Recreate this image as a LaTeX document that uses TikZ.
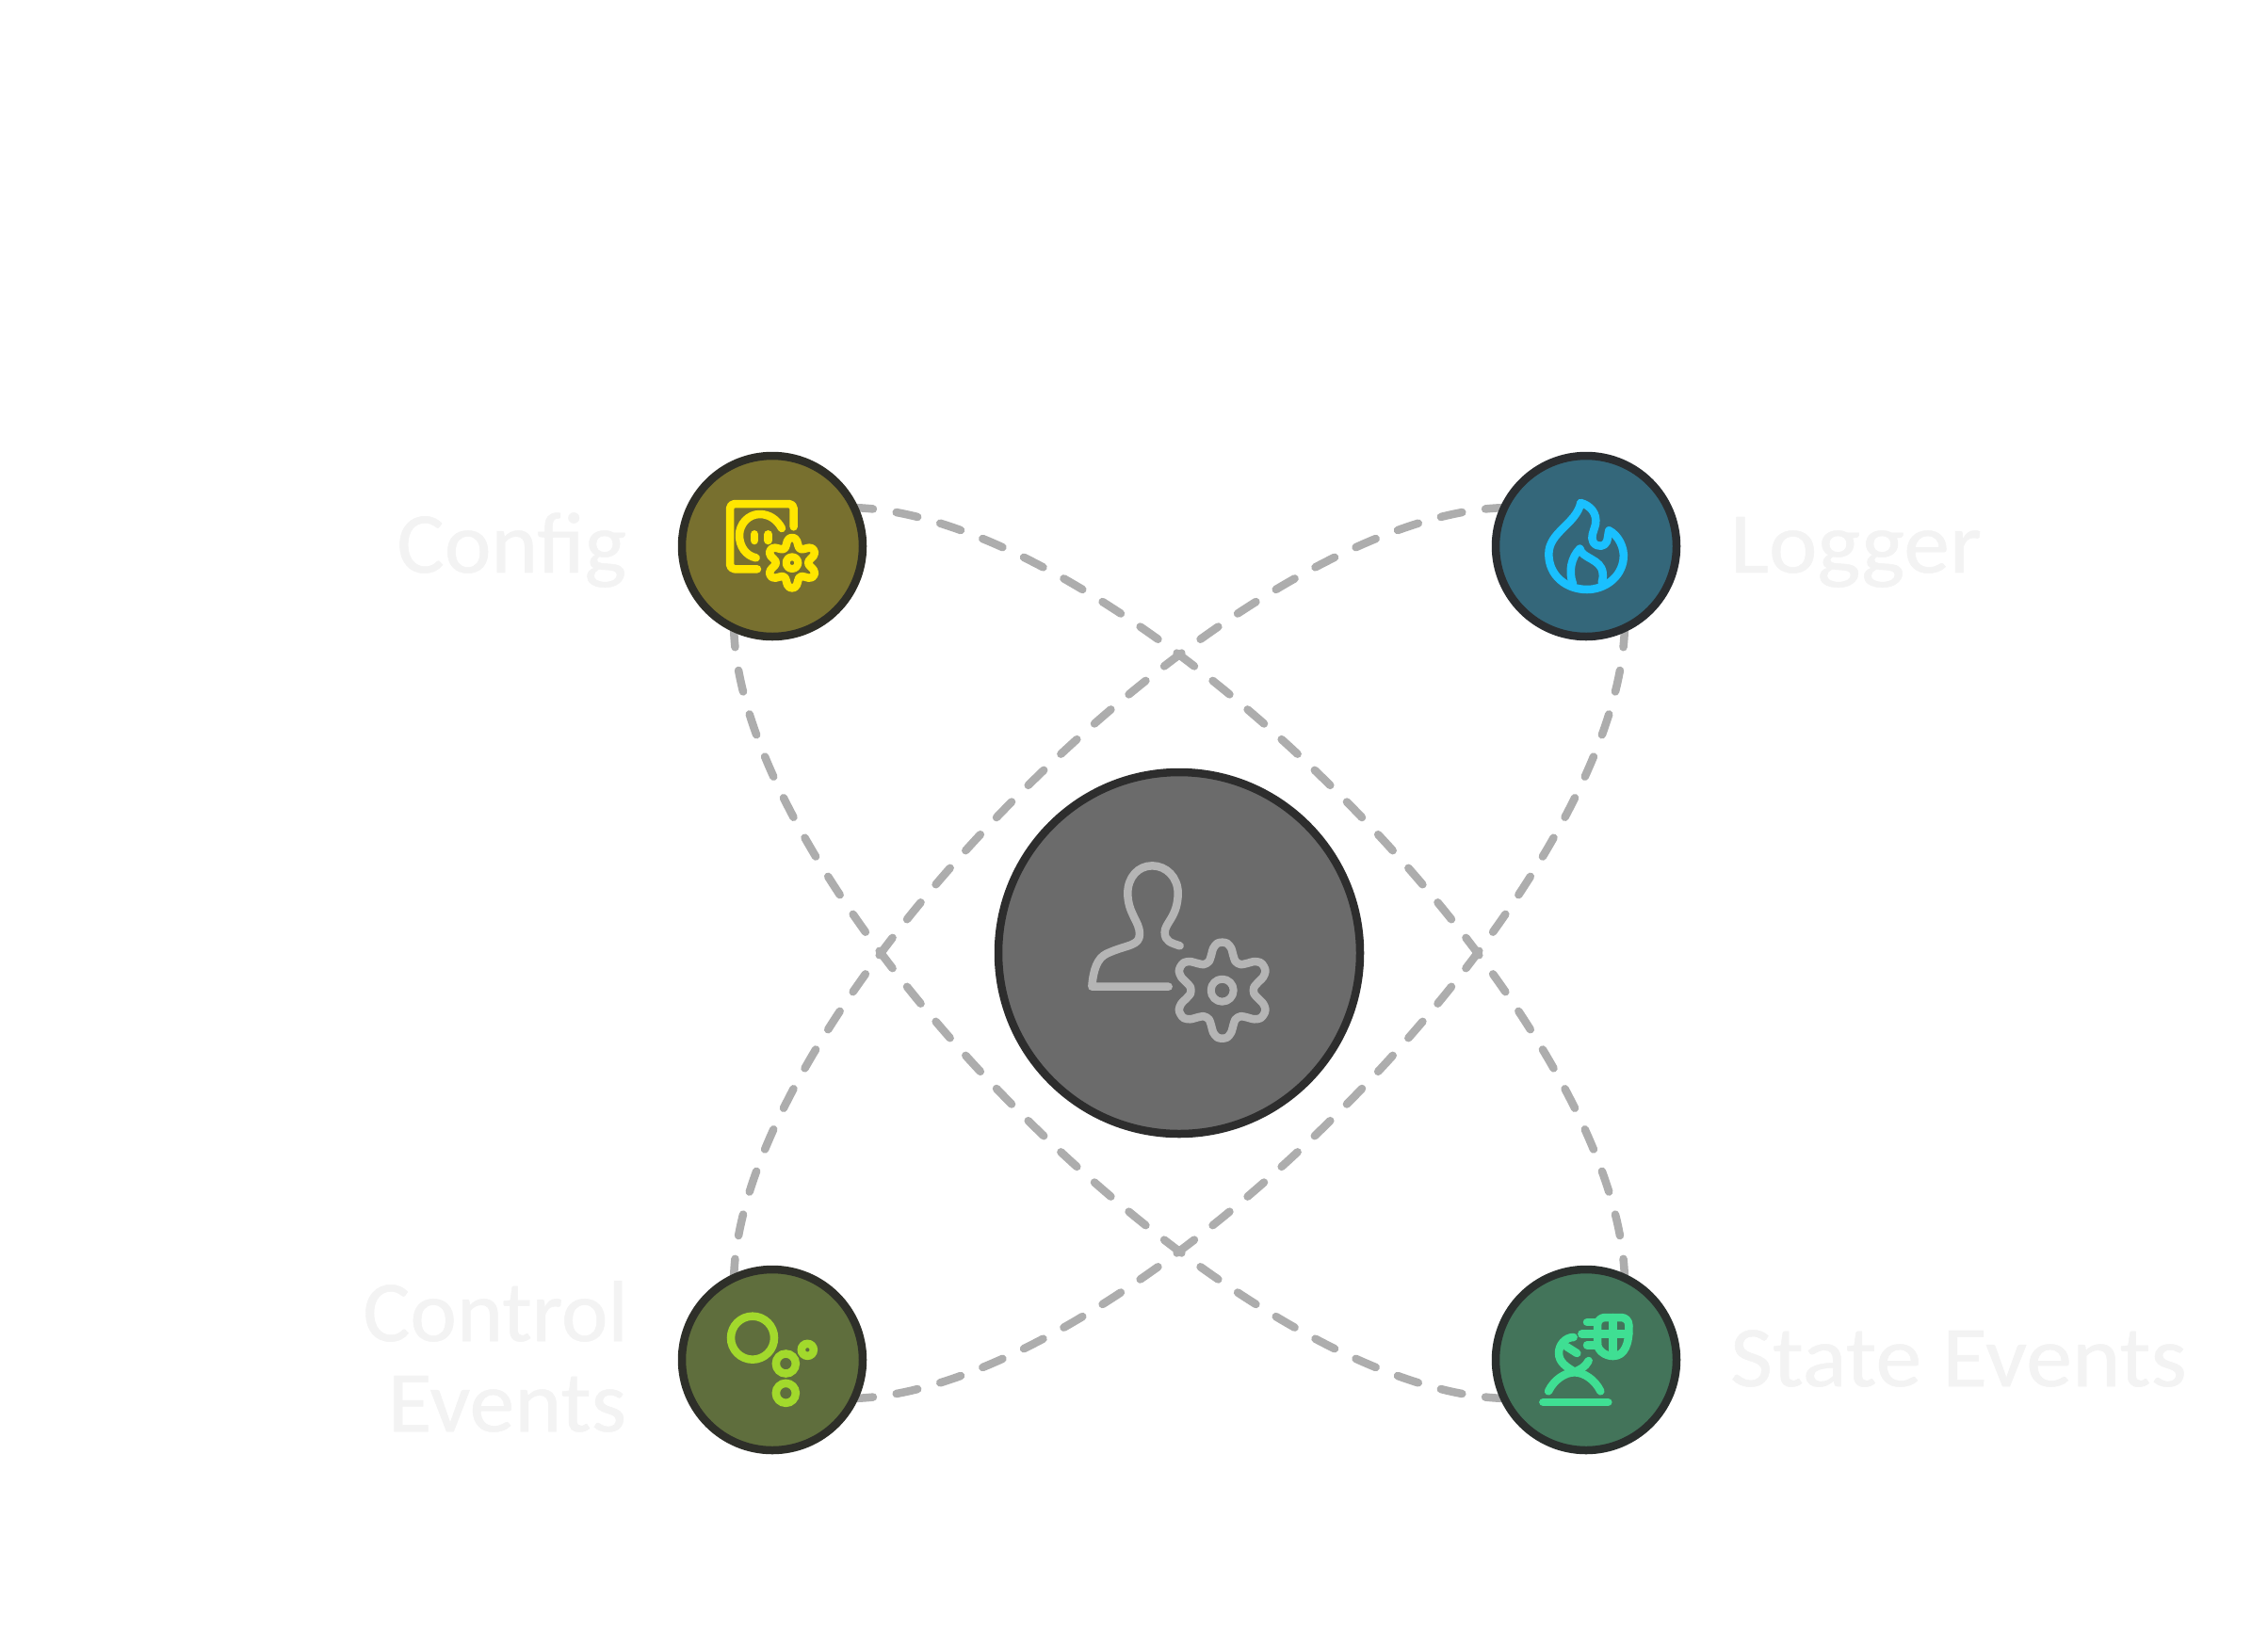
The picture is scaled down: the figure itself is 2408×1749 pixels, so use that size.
\documentclass[tikz,border=0pt]{standalone}
\usepackage{fontspec}
\setmainfont[FakeBold=0.5]{Carlito}
\usetikzlibrary{backgrounds}
\definecolor{linkgray}{HTML}{ADADAD}
\definecolor{labelpale}{HTML}{F3F3F3}
\tikzset{
  bubble/.style={circle,inner sep=0pt,outer sep=0pt,line width=8.5pt},
  small/.style={bubble,minimum size=192pt},
  hubnode/.style={bubble,minimum size=384pt,fill=hubfill,draw=hubline},
  link/.style={draw=linkgray,line width=8.5pt,line cap=round,dash pattern=on 23pt off 25pt,dash phase=44pt},
  icon/.style={line width=#1,line cap=round,line join=round},
  icon/.default=8.5pt,
  lbl/.style={anchor=base west,inner sep=0pt,outer sep=0pt,text=labelpale,font=\fontsize{92}{100}\selectfont},
  lblr/.style={anchor=base east,inner sep=0pt,outer sep=0pt,text=labelpale,font=\fontsize{92}{100}\selectfont},
  zoomed/.style={x=.33333pt,y=-.33333pt}
}
\definecolor{hubfill}{HTML}{6B6B6B}\definecolor{hubline}{HTML}{2D2D2D}
\definecolor{cfgfill}{HTML}{78702F}\definecolor{cfgline}{HTML}{2E2E27}
\definecolor{logfill}{HTML}{34677A}\definecolor{logline}{HTML}{2A2D30}
\definecolor{ctlfill}{HTML}{5F6E3D}\definecolor{ctlline}{HTML}{2E2F29}
\definecolor{stafill}{HTML}{43745A}\definecolor{staline}{HTML}{2A2F2D}
\definecolor{cfgicon}{HTML}{FFE600}\definecolor{logicon}{HTML}{1AC0FF}
\definecolor{ctlicon}{HTML}{A2D92C}\definecolor{staicon}{HTML}{3FDF93}
\definecolor{hubicon}{HTML}{B5B5B5}
\newcommand{\gearshape}[3]{plot[smooth cycle,domain=0:354,samples=60] ({#1+#3*(.825-.191*cos(6*\x)+.0159*cos(18*\x))*cos(\x)},{#2-#3*(.825-.191*cos(6*\x)+.0159*cos(18*\x))*sin(\x)})}
\begin{document}
\begin{tikzpicture}[x=1pt,y=-1pt]
\path[use as bounding box] (0,0) rectangle (2408,1749);
% nodes
\node[hubnode] (hub) at (1252,1012) {};
\node[small,fill=cfgfill,draw=cfgline] (cfg) at (820,580) {};
\node[small,fill=logfill,draw=logline] (log) at (1684,580) {};
\node[small,fill=ctlfill,draw=ctlline] (ctl) at (820,1444) {};
\node[small,fill=stafill,draw=staline] (sta) at (1684,1444) {};
% connector ends
\coordinate (cfgR) at (900,539);
\coordinate (cfgB) at (779,660);
\coordinate (logL) at (1604,539);
\coordinate (logB) at (1725,660);
\coordinate (ctlT) at (779,1364);
\coordinate (ctlR) at (900,1485);
\coordinate (staT) at (1725,1364);
\coordinate (staL) at (1604,1485);
\begin{scope}[on background layer]
\fill[white] (0,0) rectangle (2408,1749);
\draw[link] (cfgR) .. controls +(290,0) and +(0,-290) .. (staT);
\draw[link] (logL) .. controls +(-290,0) and +(0,-290) .. (ctlT);
\draw[link] (ctlR) .. controls +(290,0) and +(0,290) .. (logB);
\draw[link] (staL) .. controls +(-290,0) and +(0,290) .. (cfgB);
\end{scope}
% labels
\node[lblr] (tcfg) at (665,608) {\scalebox{1.026}[1]{Config}};
\node[lbl] (tlog) at (1837,608) {\scalebox{1.06}[1]{Logger}};
\node[lblr] (tctl1) at (667,1424) {\scalebox{1.02}[1]{Control}};
\node[lblr] (tctl2) at (665,1520) {\scalebox{1.04}[1]{Events}};
\node[lbl] (tsta) at (1837,1472) {\scalebox{1.065}[1]{State Events}};
% hub icon
\begin{scope}[shift={(1040,810)},zoomed]
\draw[hubicon,icon=8.5pt] (638,583) .. controls (612,574) and (590,570) .. (590,540) .. controls (590,510) and (632,490) .. (632,415) .. controls (632,365) and (595,328) .. (550,328) .. controls (505,328) and (472,365) .. (472,415) .. controls (472,480) and (510,505) .. (510,545) .. controls (510,585) and (470,578) .. (405,608) .. controls (375,622) and (362,660) .. (358,713) -- (602,713);
\draw[hubicon,icon=8.5pt] \gearshape{773}{725}{153};
\draw[hubicon,icon=8pt] (773,725) circle[radius=36];
\end{scope}
% config icon
\begin{scope}[shift={(700,460)},zoomed]
\draw[cfgicon,icon,rounded corners=5pt] (312,433) -- (225,433) -- (225,225) -- (428,225) -- (428,298);
\draw[cfgicon,icon] (390,303) .. controls (375,275) and (350,258) .. (320,258) .. controls (283,258) and (255,290) .. (255,325) .. controls (255,360) and (275,390) .. (308,397);
\draw[cfgicon,icon] (303,322) -- (303,342);
\draw[cfgicon,icon] (347,322) -- (347,342);
\draw[cfgicon,icon] \gearshape{423}{413}{80};
\draw[cfgicon,icon=8pt] (423,413) circle[radius=19];
\end{scope}
% logger icon
\begin{scope}[shift={(1570,460)},zoomed]
\draw[logicon,icon] (325,222) .. controls (355,230) and (378,255) .. (372,290) .. controls (366,315) and (355,330) .. (365,348) .. controls (378,365) and (402,362) .. (408,345) .. controls (412,332) and (412,320) .. (415,310);
\draw[logicon,icon] (415,310) .. controls (445,325) and (465,365) .. (461,400) .. controls (455,460) and (400,498) .. (345,498) .. controls (280,498) and (223,455) .. (223,385) .. controls (223,315) and (310,290) .. (325,222);
\draw[logicon,icon] (300,480) .. controls (285,440) and (295,395) .. (322,368);
\draw[logicon,icon] (322,368) .. controls (330,400) and (390,400) .. (395,445) .. controls (396,460) and (395,468) .. (392,475);
\end{scope}
% control icon
\begin{scope}[shift={(700,1330)},zoomed]
\draw[ctlicon,line width=8.5pt] (297,272) circle[radius=69];
\draw[ctlicon,line width=8.5pt] (403,354) circle[radius=31.5];
\draw[ctlicon,line width=8.5pt] (403,448) circle[radius=31.5];
\draw[ctlicon,line width=8.5pt] (472,310) circle[radius=19.5];
\end{scope}
% state icon
\begin{scope}[shift={(1570,1330)},zoomed]
\draw[staicon,icon] (205,477) -- (412,477);
\draw[staicon,icon] (222,442) .. controls (240,405) and (275,382) .. (305,382) .. controls (335,382) and (370,405) .. (388,442);
\draw[staicon,icon] (302,270) .. controls (275,270) and (255,295) .. (255,320) .. controls (255,350) and (280,365) .. (305,380);
\draw[staicon,icon] (350,345) .. controls (340,365) and (320,375) .. (305,380);
\draw[staicon,icon] (280,300) -- (313,321);
\draw[staicon,icon,rounded corners=8pt] (378,290) -- (378,207) -- (478,207) -- (478,235);
\draw[staicon,icon] (478,235) .. controls (480,290) and (465,330) .. (428,330) .. controls (400,330) and (378,310) .. (378,290);
\draw[staicon,icon] (428,207) -- (428,330);
\draw[staicon,icon] (328,260) -- (478,260);
\draw[staicon,icon] (345,222) -- (378,222);
\draw[staicon,icon] (345,295) -- (378,295);
\end{scope}
\end{tikzpicture}
\end{document}
